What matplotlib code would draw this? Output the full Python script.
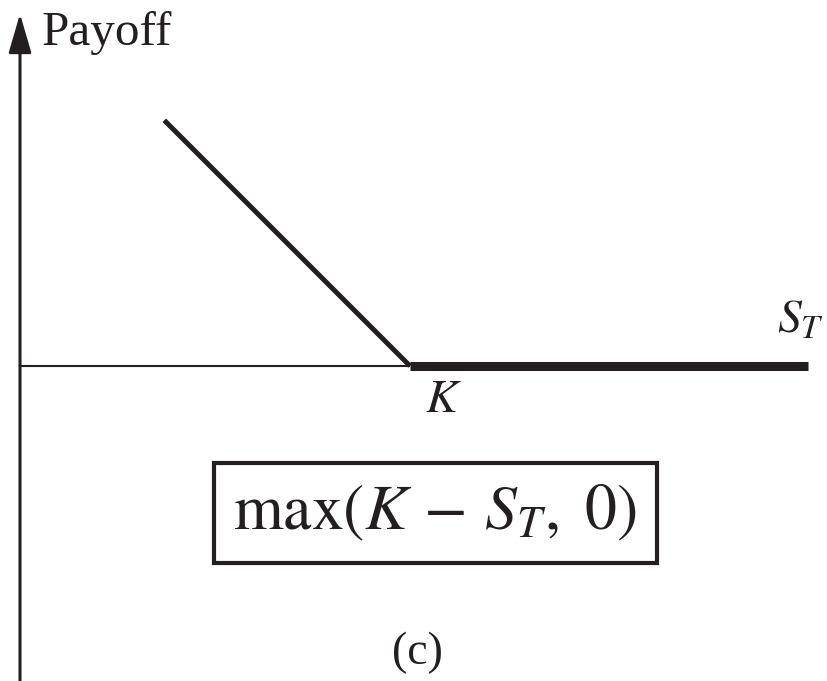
import matplotlib
matplotlib.use("Agg")
import matplotlib.pyplot as plt
from matplotlib.patches import FancyArrowPatch

plt.rcParams['font.family'] = ['Liberation Serif', 'DejaVu Serif']
plt.rcParams['mathtext.fontset'] = 'stix'

# put payoff at expiry, strike K
K = 100
S_T = [37, 100, 202]
payoff = [63, 0, 0]

ink = '#231f20'

fig = plt.figure(figsize=(8.28, 6.81), dpi=100)
ax = fig.add_axes([0, 0, 1, 1])
ax.set_xlim(-5.13, 207.2)
ax.set_ylim(-80.8, 93.85)
ax.axis('off')

# axes of the payoff diagram
ax.plot([0, K], [0, 0], color=ink, lw=1.5, solid_capstyle='butt')
arr = FancyArrowPatch((0, -90), (0, 90.3), arrowstyle='-|>,head_length=24,head_width=7',
                      mutation_scale=1, lw=2.2, color=ink, shrinkA=0, shrinkB=0)
ax.add_patch(arr)

# payoff line: slope part and flat part
ax.plot(S_T[:2], payoff[:2], color=ink, lw=3.6, solid_capstyle='butt')
ax.plot(S_T[1:], payoff[1:], color=ink, lw=6.5, solid_capstyle='butt')

ax.text(5.64, 82.3, 'Payoff', fontsize=35.5, color=ink, ha='left', va='baseline')
ax.text(108.5, -11.8, r'$K$', fontsize=34.5, color=ink, ha='center', va='baseline')
ax.text(194.1, 8.46, r'$S_T$', fontsize=34.5, color=ink, ha='left', va='baseline')
ax.text(106.5, -37.7, r'$\mathrm{max}(K\,-\,S_T,\ 0)$', fontsize=46, color=ink,
        ha='center', va='center',
        bbox=dict(boxstyle='square,pad=0.31', fc='white', ec=ink, lw=3))
ax.text(101.8, -76.4, '(c)', fontsize=33, color=ink, ha='center', va='baseline')

fig.savefig('out.png', dpi=100)
